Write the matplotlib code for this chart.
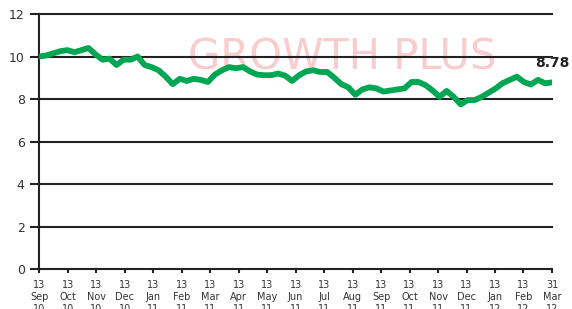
import matplotlib
matplotlib.use('Agg')
import matplotlib.pyplot as plt
import numpy as np

# tick labels, one per month (last one is 31 Mar)
tick_days = ['13'] * 18 + ['31']
tick_months = ['Sep', 'Oct', 'Nov', 'Dec', 'Jan', 'Feb', 'Mar', 'Apr', 'May',
               'Jun', 'Jul', 'Aug', 'Sep', 'Oct', 'Nov', 'Dec', 'Jan', 'Feb', 'Mar']
tick_years = ['10'] * 4 + ['11'] * 12 + ['12'] * 3

# unit price, read off roughly weekly from Sep 10 to end of Mar 12
price = [10.0, 10.05, 10.15, 10.25, 10.3, 10.2, 10.3, 10.4, 10.1, 9.85,
         9.9, 9.6, 9.85, 9.85, 10.0, 9.6, 9.5, 9.35, 9.05, 8.7,
         8.95, 8.85, 8.95, 8.9, 8.8, 9.15, 9.35, 9.5, 9.45, 9.5,
         9.3, 9.15, 9.12, 9.12, 9.2, 9.1, 8.85, 9.12, 9.3, 9.35,
         9.27, 9.27, 9.0, 8.7, 8.55, 8.2, 8.45, 8.55, 8.5, 8.35,
         8.4, 8.45, 8.5, 8.8, 8.8, 8.65, 8.4, 8.1, 8.38, 8.1,
         7.75, 7.95, 7.95, 8.1, 8.3, 8.5, 8.75, 8.9, 9.05, 8.8,
         8.68, 8.9, 8.74, 8.78]
last_label = '8.78'

x = np.linspace(0, len(tick_months) - 1, len(price))

fig = plt.figure(figsize=(5.72, 3.09), dpi=100)
ax = fig.add_axes([0.0687, 0.1294, 0.8963, 0.8253])

ax.text(0.59, 0.83, 'GROWTH PLUS', transform=ax.transAxes, ha='center', va='center',
        fontsize=30, color='#f9cdcd', zorder=0)

ax.plot(x, price, color='#00a651', lw=4.2, solid_joinstyle='round',
        solid_capstyle='round', zorder=3)
ax.annotate(last_label, (x[-1], price[-1]), xytext=(0, 9), textcoords='offset points',
            ha='center', va='bottom', fontsize=10, fontweight='bold', color='#222222',
            annotation_clip=False)

ax.set_xlim(0, len(tick_months) - 1)
ax.set_ylim(0, 12)
ax.set_yticks(range(0, 13, 2))
ax.set_xticks(range(len(tick_months)))
ax.set_xticklabels([d + '\n' + m + '\n' + y for d, m, y in zip(tick_days, tick_months, tick_years)],
                   fontsize=7, linespacing=1.25)
ax.tick_params(axis='y', length=6.5, width=1.5, color='#222222', labelsize=9,
               labelcolor='#333333', pad=4)
ax.tick_params(axis='x', length=3, width=1.5, color='#222222', labelcolor='#333333', pad=5)

for v in range(0, 13, 2):
    ax.axhline(v, color='#222222', lw=1.5, zorder=2, clip_on=False)

for s in ['top', 'right', 'bottom']:
    ax.spines[s].set_visible(False)
ax.spines['left'].set_color('#222222')
ax.spines['left'].set_linewidth(1.5)

fig.savefig('out.png', dpi=100)
